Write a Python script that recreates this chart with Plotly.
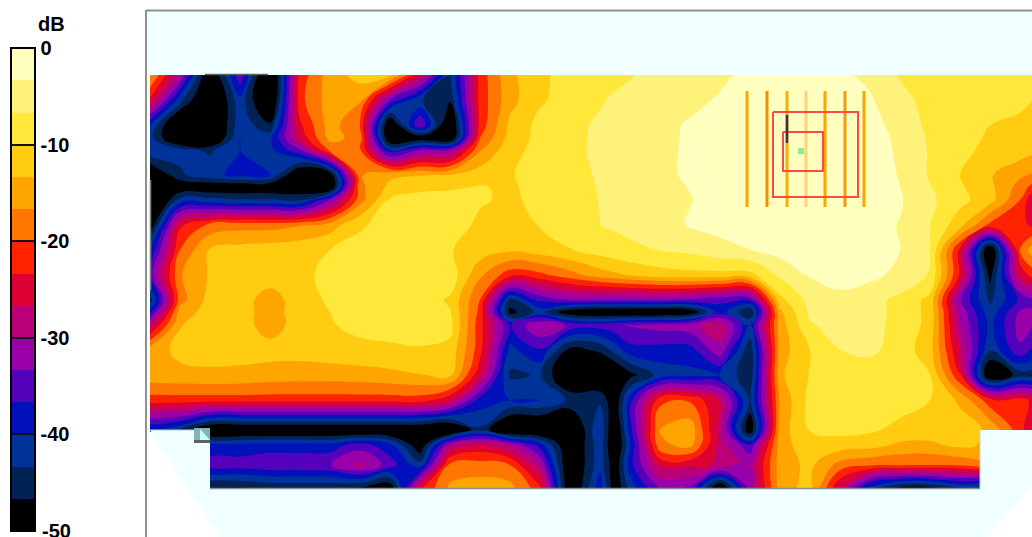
import plotly.graph_objects as go

# ---- data (dB) ----
grid_x = [150,180,210,240,270,300,330,360,390,420,450,480,510,540,570,600,615,630,660,690,720,750,780,810,840,870,900,930,960,990,1020,1032]
grid_y = [75,100,125,138,150,175,187,200,225,250,275,300,312,325,350,375,400,430,445,465,488]
N = None
r075 = [-16,-30,-52,-34,-55,-22,-15,-12,-12,-26,-44,-22,-14,-11,-8,-8,-7.5,-7,-5,-4.5,-4,-2.5,-2,-2,-2.8,-4,-7,-8,-8.5,-8.5,-9,-9]
r100 = [-24,-42,-54,-41,-54,-21,-15,-16,-34,-43,-46,-22,-14.5,-10.5,-8.5,-7,-6.2,-5.5,-5,-4.2,-3,-2,-1.5,-1.5,-2,-3,-5.5,-8,-9,-9.5,-9.5,-10]
r125 = [-40,-54,-54,-41,-46,-24,-15,-20,-52,-33,-53,-22,-12.5,-9,-7.5,-6.2,-5.7,-5.2,-4.2,-3,-2,-1.3,-1,-1,-1.3,-2.2,-4.5,-7.5,-9,-10,-10.5,-11]
r138 = [-42,-53,-53,-40,-41,-26,-15.5,-18,-52,-50,-52,-20,-12,-9,-7.5,-6.1,-5.6,-5.1,-4.2,-2.9,-2,-1.3,-1,-1,-1.2,-2,-4,-7.2,-9.2,-10.3,-11,-12]
r150 = [-40,-42,-44,-40,-41,-34,-19,-19.5,-40,-33,-32,-17,-11,-9,-7.5,-6,-5.5,-5,-4.2,-2.8,-2,-1.3,-1,-1,-1.2,-2,-3.8,-7,-9.5,-10.5,-11.5,-12.5]
r175 = [-52,-44,-41,-39,-40,-52,-50,-17,-14,-13.5,-13.2,-11.5,-10.2,-9,-7.5,-6.4,-5.8,-5.2,-4.2,-2.8,-2,-1.3,-1,-1,-1.2,-2,-3.5,-7,-10,-13,-16,-17]
r187 = [-55,-50,-50,-50,-50,-50,-52,-17.5,-12.5,-11,-10.5,-9.8,-10.5,-8.9,-7.7,-6.5,-6,-5.5,-4.6,-3.2,-2.1,-1.3,-1,-1,-1.2,-2,-3.3,-6.5,-9.5,-12.5,-18,-21]
r200 = [-56,-42,-42,-43,-43,-44,-33,-18,-9.5,-8.5,-8.5,-9.5,-10.8,-8.8,-7.8,-6.6,-6.2,-5.8,-5,-3.5,-2.2,-1.3,-1,-1,-1.2,-2,-3,-6,-9,-12,-20,-26]
r225 = [-50,-24,-19,-18,-18,-17,-15,-10.5,-8.5,-7.8,-7.6,-11,-12,-9.8,-8,-6.7,-6.3,-6,-5,-3,-2.2,-1.5,-1.2,-1.2,-1.5,-2.2,-3.5,-6.7,-12,-21,-22,-24]
r250 = [-40,-20,-13,-12,-11.5,-11,-10,-8.7,-8,-7.5,-9.8,-11.5,-12.7,-11.5,-10.2,-8.5,-7.8,-7.2,-6.6,-6,-4.5,-3.4,-2,-1.5,-1.5,-2,-3.3,-6.6,-24,-52,-20,-15]
r275 = [-35,-17,-13,-12.2,-11.5,-10.5,-9.5,-8.5,-8,-7.5,-8,-16,-22,-21,-18,-15,-14,-13,-11.5,-11,-11,-11,-6,-3,-1.7,-2.5,-4.2,-7,-24,-48,-26,-22]
r300 = [-45,-18,-12,-11.8,-15,-11.5,-9.5,-8.5,-8,-8,-10.5,-20,-44,-36,-33,-33,-33,-33,-33,-34,-36,-36,-11,-5.5,-4.5,-5.5,-7.5,-11,-33,-44,-36,-34]
r312 = [-38,-15,-12,-11.8,-15,-11.5,-10,-8.8,-8.3,-8.3,-9.8,-21,-48,-42,-50,-52,-52,-52,-52,-50,-38,-47,-14,-6,-5,-5.5,-7.6,-11,-31,-42,-33,-33]
r325 = [-28,-13.5,-12,-11.8,-15,-11.8,-10.3,-9,-8.5,-8.5,-9,-22,-37,-30,-34,-35,-34,-33,-32,-31,-28,-40,-15,-7,-5.5,-5.5,-7.8,-11,-30,-41,-32,-33]
r350 = [-15,-12.5,-12,-12,-12,-12,-11.5,-11,-10.7,-10.3,-11,-22,-41,-37,-48,-46,-42,-38,-38,-38,-31,-46,-15,-10,-6.7,-6,-8,-12,-27,-43,-34,-37]
r375 = [-14.5,-14.2,-14,-14.2,-14.8,-15,-15,-14.7,-14.2,-13.5,-12.5,-26,-44,-43,-52,-52,-52,-48,-42,-41,-40,-46,-14,-9.8,-8.8,-8.5,-8.5,-10,-23,-52,-45,-45]
r400 = [-21.5,-21.5,-21.5,-21.5,-21.5,-21.5,-21.5,-21.5,-21.5,-21.5,-26,-38,-40,-40,-44,-44,-50,-38,-21,-20.5,-27,-44,-16,-9,-8.7,-8.5,-8.5,-10,-14,-22,-22,-24]
r430 = [-40,-43,-52,-52,-52,-52,-52,-52,-52,-52,-53,-44,-53,-53,-53,-40,-52,-38,-16.5,-14.5,-28,-50,-15,-9.9,-9,-9.5,-11,-11.5,-11.5,-14,-22,-26]
r445 = [N,N,-39,-39,-38.5,-38.5,-38.5,-35,-39,-50,-30,-26,-30,-38,-52,-41,-52,-40,-17.5,-15.5,-28,-36,-15,-11,-11.5,-12,-14,-14,-12.5,-14,N,N]
r465 = [N,N,-35,-35,-34,-34,-33.5,-29,-35,-42,-19,-18.5,-20,-30,-52,-41,-50,-38,-26,-26,-27,-30,-15,-12.5,-18,-19.5,-19.8,-20,-19.5,-18,N,N]
r488 = [N,N,-47,-47,-46,-46,-46,-47,-50,-24,-16,-15,-15.5,-22,-52,-38,-50,-42,-33,-34,-52,-32,-15,-12,-27,-42,-48,-48,-44,-44,N,N]
z_rows = [r075,r100,r125,r138,r150,r175,r187,r200,r225,r250,r275,r300,r312,r325,r350,r375,r400,r430,r445,r465,r488]

band_colors = ["#000000","#002255","#003399","#0011BB","#5500BB","#9900AA","#BB0077","#DD0033",
               "#FF2200","#FF7700","#FFA500","#FFCC11","#FFE83A","#FFF27A","#FFFFC0"]
tick_vals = [0,-10,-20,-30,-40]
tick_text = ["0","-10","-20","-30","-40"]
low_label = "-50"
element_x = [747,767,787,806,825,845,864]
element_color = ["#FFA500","#F09000","#FFAA00","#FFD27A","#FFA500","#F09A10","#FFA500"]
element_y = [91,207]
outer_x = [773,858,858,773,773]; outer_y = [112,112,197,197,112]
inner_x = [783,823,823,783,783]; inner_y = [132,132,171,171,132]
dark_x = [787,787]; dark_y = [115,143]
feed_x = [801]; feed_y = [151]

n = len(band_colors)
cs = []
for i, c in enumerate(band_colors):
    cs += [[i/n, c], [(i+1)/n, c]]

fig = go.Figure()
fig.add_trace(go.Contour(
    x=grid_x, y=grid_y, z=z_rows, zmin=-50, zmax=0, colorscale=cs, connectgaps=False,
    autocontour=False, contours=dict(start=-50.01, end=0, size=10/3, coloring="fill", showlines=False),
    line=dict(width=0, smoothing=1.3), hoverinfo="skip",
    colorbar=dict(xref="container", yref="container", x=11/1032, xanchor="left",
                  y=(537-48)/537, yanchor="top", lenmode="pixels", len=483,
                  thicknessmode="pixels", thickness=24, xpad=0, ypad=0,
                  outlinecolor="#000000", outlinewidth=2, borderwidth=0,
                  tickmode="array", tickvals=tick_vals, ticktext=tick_text,
                  ticks="inside", ticklen=24, tickcolor="#111111", tickwidth=1.5,
                  tickfont=dict(family="Liberation Sans", size=20, color="#000000", weight="bold"))))

for ex, ec in zip(element_x, element_color):
    fig.add_trace(go.Scatter(x=[ex, ex], y=element_y, mode="lines", line=dict(color=ec, width=3), showlegend=False, hoverinfo="skip"))
fig.add_trace(go.Scatter(x=outer_x, y=outer_y, mode="lines", line=dict(color="#FF4848", width=2), showlegend=False, hoverinfo="skip"))
fig.add_trace(go.Scatter(x=inner_x, y=inner_y, mode="lines", line=dict(color="#FF4848", width=2), showlegend=False, hoverinfo="skip"))
fig.add_trace(go.Scatter(x=dark_x, y=dark_y, mode="lines", line=dict(color="#333355", width=2.5), showlegend=False, hoverinfo="skip"))
fig.add_trace(go.Scatter(x=feed_x, y=feed_y, mode="markers", marker=dict(color="#90EE90", size=6, symbol="square"), showlegend=False, hoverinfo="skip"))

CY = "#F0FFFF"
shapes = [
    dict(type="path", path="M147,11 L1032,11 L1032,487 L987,537 L220,537 L150,432 L147,430 Z",
         fillcolor=CY, line=dict(width=0), layer="below"),
    dict(type="path", path="M150,430 L210,430 L210,490 L190,490 Z", fillcolor=CY, line=dict(width=0), layer="above"),
    dict(type="rect", x0=980, x1=1033, y0=430, y1=490, fillcolor=CY, line=dict(width=0), layer="above"),
    dict(type="rect", x0=194, x1=210, y0=428, y1=443, fillcolor="#7FB5B5", line=dict(width=0), layer="above"),
    dict(type="path", path="M200,429 L210,440 L200,440 Z", fillcolor="#C8FFFF", line=dict(width=0), layer="above"),
    dict(type="rect", x0=194, x1=210, y0=440, y1=443, fillcolor="#606060", line=dict(width=0), layer="above"),
    dict(type="line", x0=210, x1=980, y0=488.5, y1=488.5, line=dict(color="#8A9090", width=1.5), layer="above"),
    dict(type="line", x0=980, x1=980, y0=430, y1=488, line=dict(color="#C8D0D0", width=1), layer="above"),
    dict(type="line", x0=150, x1=194, y0=430, y1=430, line=dict(color="#C0C8C8", width=1), layer="above"),
    dict(type="line", x0=205, x1=268, y0=74.5, y1=74.5, line=dict(color="#606060", width=1.5), layer="above"),
    dict(type="line", x0=150.5, x1=150.5, y0=180, y1=290, line=dict(color="#808080", width=1.5), layer="above"),
    dict(type="line", x0=146, x1=146, y0=10, y1=537, line=dict(color="#909090", width=2), layer="above"),
    dict(type="line", x0=146, x1=1032, y0=10.5, y1=10.5, line=dict(color="#909090", width=2), layer="above"),
]

label_font = dict(family="Liberation Sans", size=20, color="#000000", weight="bold")
fig.update_layout(
    width=1032, height=537, margin=dict(l=0, r=0, t=0, b=0, autoexpand=False),
    paper_bgcolor="#FFFFFF", plot_bgcolor="#FFFFFF", showlegend=False, shapes=shapes,
    xaxis=dict(range=[0, 1032], visible=False, fixedrange=True),
    yaxis=dict(range=[537, 0], visible=False, fixedrange=True),
    annotations=[
        dict(text="dB", x=51, y=24, xref="x", yref="y", showarrow=False, font=label_font),
        dict(text=low_label, x=40, y=531, xref="x", yref="y", xanchor="left", showarrow=False, font=label_font),
    ],
)
fig.write_html("out.html", config=dict(displayModeBar=False), post_script="document.body.style.margin='0';")
